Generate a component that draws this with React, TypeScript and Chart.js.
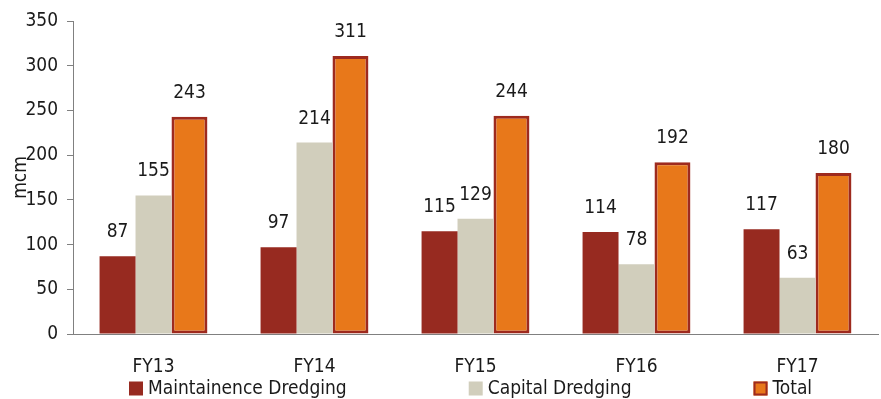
import React, { useEffect, useRef } from "react";
import { Chart, registerables } from "chart.js";

Chart.register(...registerables);

const categories = ["FY13", "FY14", "FY15", "FY16", "FY17"];
const maintenance = [87, 97, 115, 114, 117];
const capital = [155, 214, 129, 78, 63];
const total = [243, 311, 244, 192, 180];
const yTicks = [0, 50, 100, 150, 200, 250, 300, 350];
const seriesNames = ["Maintainence Dredging", "Capital Dredging", "Total"];

const FONT = "'Liberation Sans Narrow', 'DejaVu Sans Condensed', 'Arial Narrow', sans-serif";
const RED = "#972A20";
const BEIGE = "#D1CEBC";
const ORANGE = "#E8781A";
const BORDER = "#9E2A1E";

const valueLabels = {
  id: "valueLabels",
  afterDatasetsDraw(chart: any) {
    const ctx = chart.ctx;
    ctx.save();
    ctx.font = `19px ${FONT}`;
    ctx.fillStyle = "#1a1a1a";
    ctx.textAlign = "center";
    ctx.textBaseline = "middle";
    chart.data.datasets.forEach((ds: any, i: number) => {
      const meta = chart.getDatasetMeta(i);
      meta.data.forEach((bar: any, j: number) => {
        ctx.fillText(String(ds.data[j]), bar.x, bar.y - 24);
      });
    });
    ctx.restore();
  },
};

const bottomLegend = {
  id: "bottomLegend",
  afterDraw(chart: any) {
    const ctx = chart.ctx;
    ctx.save();
    ctx.font = `19px ${FONT}`;
    ctx.textBaseline = "middle";
    ctx.textAlign = "left";
    const box = 14;
    const gapBox = 5;
    const gapItem = 122;
    const items = chart.data.datasets.map((ds: any) => ({
      label: ds.label,
      fill: ds.backgroundColor,
      border: ds.borderWidth ? ds.borderColor : null,
      w: box + gapBox + ctx.measureText(ds.label).width,
    }));
    const area = chart.chartArea;
    let x = area.left + 56;
    const y = 388.5;
    items.forEach((it: any) => {
      ctx.fillStyle = it.fill;
      ctx.fillRect(x, y - box / 2, box, box);
      if (it.border) {
        ctx.strokeStyle = it.border;
        ctx.lineWidth = 2;
        ctx.strokeRect(x + 1, y - box / 2 + 1, box - 2, box - 2);
      }
      ctx.fillStyle = "#1a1a1a";
      ctx.fillText(it.label, x + box + gapBox, y + 1);
      x += it.w + gapItem;
    });
    ctx.restore();
  },
};

export default function App() {
  const ref = useRef<HTMLCanvasElement>(null);
  useEffect(() => {
    document.body.style.margin = "0";
    const chart = new Chart(ref.current!, {
      type: "bar",
      data: {
        labels: categories,
        datasets: [
          { label: seriesNames[0], data: maintenance, backgroundColor: RED, borderWidth: 0 },
          { label: seriesNames[1], data: capital, backgroundColor: BEIGE, borderWidth: 0 },
          {
            label: seriesNames[2],
            data: total,
            backgroundColor: ORANGE,
            borderColor: BORDER,
            borderWidth: 3,
            borderSkipped: false,
          },
        ],
      },
      options: {
        responsive: false,
        animation: false,
        layout: { padding: { top: 21, right: 3, bottom: 21, left: 0 } },
        datasets: { bar: { categoryPercentage: 0.67, barPercentage: 1.0 } },
        plugins: { legend: { display: false }, tooltip: { enabled: false } },
        scales: {
          x: {
            grid: { display: false, drawTicks: false },
            border: { display: true, color: "#808080", width: 1 },
            ticks: { color: "#1a1a1a", font: { family: FONT, size: 19 }, padding: 22 },
            afterFit: (s: any) => {
              s.height = 44;
            },
          },
          y: {
            min: 0,
            max: 350,
            afterBuildTicks: (s: any) => {
              s.ticks = yTicks.map((v) => ({ value: v }));
            },
            grid: { drawOnChartArea: false, drawTicks: true, tickLength: 6, color: "#808080" },
            border: { display: true, color: "#808080", width: 1 },
            ticks: { color: "#1a1a1a", font: { family: FONT, size: 19 }, padding: 9 },
            title: {
              display: true,
              text: "mcm",
              color: "#1a1a1a",
              font: { family: FONT, size: 19 },
              padding: { top: 10, bottom: 0 },
            },
            afterFit: (s: any) => {
              s.width = 73;
            },
          },
        },
      },
      plugins: [valueLabels, bottomLegend],
    });
    return () => chart.destroy();
  }, []);
  return <canvas ref={ref} width={881} height={399} style={{ display: "block" }} />;
}
